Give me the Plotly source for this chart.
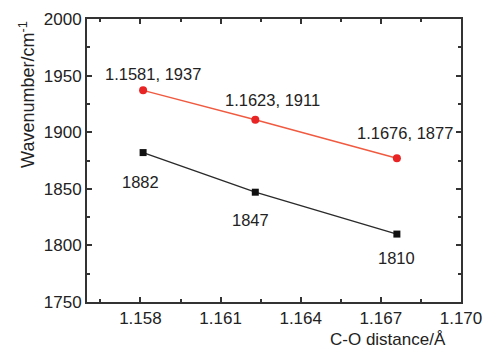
import plotly.graph_objects as go

distance = [1.1581, 1.1623, 1.1676]
red_wavenumber = [1937, 1911, 1877]
black_wavenumber = [1882, 1847, 1810]
red_labels = ["1.1581, 1937", "1.1623, 1911", "1.1676, 1877"]
black_labels = ["1882", "1847", "1810"]
x_ticks = [1.158, 1.161, 1.164, 1.167, 1.170]
y_ticks = [1750, 1800, 1850, 1900, 1950, 2000]

FAM = "Liberation Sans, Arial, sans-serif"

fig = go.Figure()
fig.add_trace(go.Scatter(x=distance, y=red_wavenumber, mode="lines+markers",
                         line=dict(color="#f05a40", width=1.4),
                         marker=dict(symbol="circle", size=8, color="#e82424"),
                         showlegend=False))
fig.add_trace(go.Scatter(x=distance, y=black_wavenumber, mode="lines+markers",
                         line=dict(color="#2a2a2a", width=1.4),
                         marker=dict(symbol="square", size=7, color="#111111"),
                         showlegend=False))

label_font = dict(family=FAM, size=16.5, color="#222")
red_shift = [(10, 16), (17, 20), (8, 25)]
black_shift = [(-3, -29), (-5, -28), (0, -24)]
for x, y, t, (dx, dy) in zip(distance, red_wavenumber, red_labels, red_shift):
    fig.add_annotation(x=x, y=y, text=t, showarrow=False, xshift=dx, yshift=dy, font=label_font)
for x, y, t, (dx, dy) in zip(distance, black_wavenumber, black_labels, black_shift):
    fig.add_annotation(x=x, y=y, text=t, showarrow=False, xshift=dx, yshift=dy, font=label_font)

axis_common = dict(showline=True, linecolor="#333", linewidth=2, mirror="ticks",
                   ticks="inside", ticklen=5, tickwidth=1.5, tickcolor="#333",
                   showgrid=False, zeroline=False, automargin=False,
                   tickfont=dict(family=FAM, size=17, color="#222"))
fig.update_xaxes(range=[1.156, 1.170], tickvals=x_ticks,
                 ticktext=[f"{v:.3f}" for v in x_ticks],
                 minor=dict(ticks="inside", ticklen=3, tickcolor="#333", dtick=0.0015, tick0=1.1565),
                 **axis_common)
fig.update_yaxes(range=[1750, 2000], tickvals=y_ticks,
                 minor=dict(ticks="inside", ticklen=3, tickcolor="#333", dtick=25, tick0=1750),
                 **axis_common)
fig.add_annotation(xref="paper", yref="paper", x=-0.158, y=0.735, xanchor="center", yanchor="middle",
                   textangle=-90, text="Wavenumber/cm<sup>-1</sup>", showarrow=False,
                   font=dict(family=FAM, size=18, color="#222"))
fig.add_annotation(xref="paper", yref="paper", x=0.805, y=-0.134, xanchor="center", yanchor="middle",
                   text="C-O distance/Å", showarrow=False,
                   font=dict(family=FAM, size=17, color="#222"))

fig.update_layout(width=484, height=351, margin=dict(l=87, r=23, t=19, b=49),
                  plot_bgcolor="white", paper_bgcolor="white")
fig.write_html("out.html")
